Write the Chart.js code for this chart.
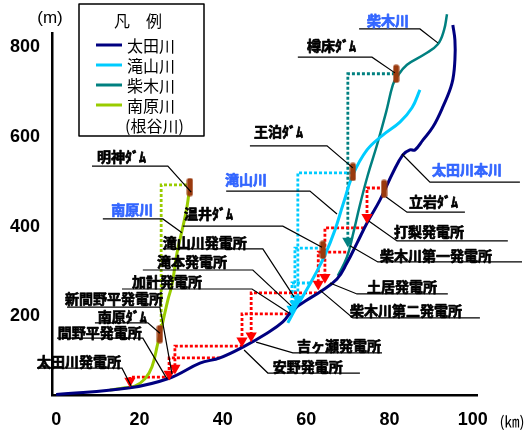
<!DOCTYPE html>
<html>
<head>
<meta charset="utf-8">
<script src="https://cdn.jsdelivr.net/npm/chart.js@4.4.1/dist/chart.umd.min.js"></script>
<style>
body { margin: 0; background: #fff; }
</style>
</head>
<body>
<canvas id="c" width="529" height="434"></canvas>
<script>
// distance from river mouth (km) / elevation (m)
var otaKm = [0, 17.7, 27.3, 34.5, 39.3, 44.8, 50.6, 54.4, 56.8, 60.2, 63.3, 67.4, 69.8, 72.2, 74.6, 77.7, 80.8, 83.2, 84.9, 86.1, 88.0, 90.4, 92.8, 95.0, 95.7, 95.7, 95.2];
var otaM  = [25, 40, 62, 95, 107, 131, 162, 187, 214, 236, 254, 283, 319, 363, 408, 459, 520, 560, 571, 571, 593, 622, 667, 720, 772, 816, 850];

var takiKm = [55.6, 57.3, 59.7, 62.1, 64.5, 66.9, 68.8, 71.2, 74.6, 78.4, 82.5, 85.4, 87.3];
var takiM  = [185, 214, 252, 292, 336, 392, 448, 515, 571, 604, 633, 665, 705];

var shikiKm = [67.6, 69.8, 71.2, 72.9, 74.8, 77.0, 79.2, 80.8, 81.8, 84.2, 88.5, 91.6, 93.1, 93.8];
var shikiM  = [290, 332, 381, 448, 515, 582, 656, 716, 734, 761, 785, 807, 839, 874];

var minaKm = [12.9, 16.5, 18.9, 21.3, 23.0, 24.4, 25.6, 26.8, 27.8, 29.0, 30.4, 31.4, 32.1];
var minaM  = [35, 40, 44, 60, 87, 140, 187, 236, 270, 341, 399, 444, 493];

var riverNames = ['太田川', '滝山川', '柴木川', '南原川'];
var riverSub = '(根谷川)';

// dams: 明神, 南原, 温井, 王泊, 樽床, 立岩
var damKm = [32.1, 24.9, 64.0, 71.2, 81.6, 78.7];
var damM  = [488, 160, 348, 522, 741, 484];

// water routes (intake -> power station), [km, m]
var rOta       = [[27.3, 64], [17.7, 64], [17.7, 55]];
var rManohira  = [[39.3, 107], [27.1, 107], [27.1, 71]];
var rShinMano  = [[44.8, 133], [28.5, 133], [28.5, 84]];
var rYasuno    = [[55.6, 205], [44.6, 205], [44.6, 145]];
var rYoshigase = [[62.6, 252], [46.8, 252], [46.8, 156]];
var rDoi       = [[73.9, 397], [64.5, 397], [64.5, 287]];
var rShiki2    = [[69.6, 343], [62.9, 343], [62.9, 272]];
var rUchinashi = [[77.7, 486], [74.6, 486], [74.6, 421]];
var rTakiyama  = [[71.0, 520], [58.0, 520], [58.0, 238]];
var rTakimoto  = [[62.8, 352], [57.3, 352], [57.3, 227]];
var rKake      = [[60.9, 274], [56.6, 274], [56.6, 216]];
var rShiki1    = [[81.3, 741], [70.0, 741], [70.0, 368]];
var rMinami    = [[31.4, 493], [25.2, 493], [25.2, 180]];

// power station outlets
var redArrowKm = [17.7, 27.1, 28.5, 44.6, 46.8, 64.5, 62.9, 74.6];
var redArrowM  = [55, 71, 84, 145, 156, 287, 272, 421];
var blueArrowKm = [58.0, 57.3, 56.6];
var blueArrowM  = [238, 227, 216];
var tealArrowKm = [70.0];
var tealArrowM  = [368];

var xTicks = [0, 20, 40, 60, 80, 100];
var yTicks = [200, 400, 600, 800];

var callouts = [
  {t: '明神ﾀﾞﾑ', at: [9.8, 555], line: [[8.6, 535], [26.8, 535], [32.4, 477]]},
  {t: '南原川', river: true, at: [13.2, 437], line: [[11.2, 417], [25.6, 417], [30.2, 386]]},
  {t: '温井ﾀﾞﾑ', at: [30.7, 428], line: [[30.4, 401], [54.4, 401], [63.8, 354]]},
  {t: '滝山川', river: true, at: [40.5, 504], line: [[40.8, 479], [60.9, 479], [67.4, 428]]},
  {t: '王泊ﾀﾞﾑ', at: [47.5, 611], line: [[46.5, 580], [65.0, 580], [71.2, 531]]},
  {t: '樽床ﾀﾞﾑ', at: [60.2, 803], line: [[58.0, 778], [75.8, 778], [81.3, 743]]},
  {t: '柴木川', river: true, at: [74.6, 859], line: [[72.7, 841], [87.3, 841], [91.6, 810]]},
  {t: '太田川本川', river: true, at: [90.2, 526], line: [[111.3, 499], [89.7, 499], [83.0, 562]]},
  {t: '立岩ﾀﾞﾑ', at: [84.7, 455], line: [[98.1, 432], [84.2, 432], [79.2, 466]]},
  {t: '打梨発電所', at: [81.1, 388], line: [[108.4, 368], [81.8, 368], [75.1, 412]]},
  {t: '柴木川第一発電所', at: [77.7, 336], line: [[111.8, 321], [77.2, 321], [70.5, 357]]},
  {t: '土居発電所', at: [74.6, 265], line: [[94.0, 249.5], [72.2, 249.5], [65.7, 274]]},
  {t: '柴木川第二発電所', at: [70.5, 211.5], line: [[101.7, 196], [71.2, 196], [63.3, 258]]},
  {t: '吉ヶ瀬発電所', at: [57.8, 133], line: [[78.2, 118], [56.8, 118], [48.0, 142]]},
  {t: '安野発電所', at: [52.0, 86.5], line: [[72.9, 73], [50.8, 73], [45.1, 124.5]]},
  {t: '滝山川発電所', at: [25.6, 363], line: [[25.6, 350], [49.6, 350], [57.1, 243]]},
  {t: '滝本発電所', at: [24.2, 321], line: [[20.8, 303], [47.2, 303], [56.4, 223]]},
  {t: '加計発電所', at: [18.2, 276], line: [[15.8, 260.6], [47.0, 260.6], [55.9, 207]]},
  {t: '新間野平発電所', at: [2.1, 238], line: [[2.6, 220], [24.9, 220], [27.8, 71]]},
  {t: '南原ﾀﾞﾑ', at: [10.0, 198], line: [[9.3, 185], [22.0, 185], [24.9, 162]]},
  {t: '間野平発電所', at: [0.4, 162], line: [[0.2, 151], [20.8, 151], [26.6, 60]]},
  {t: '太田川発電所', at: [-4.6, 98], line: [[-4.6, 84], [15.8, 84], [18.0, 44]]}
];

var OTA = '#000080', TAKI = '#00ccff', SHIKI = '#008080', MINA = '#99cc00', RED = '#ff0000';

function pts(km, m) {
  return km.map((k, i) => ({x: k, y: m[i]}));
}
function pairs(a) {
  return a.map(p => ({x: p[0], y: p[1]}));
}

// brown dam marker
var dam = document.createElement('canvas');
dam.width = 7; dam.height = 19;
(function () {
  var g = dam.getContext('2d');
  g.fillStyle = '#9a3a0e';
  g.beginPath();
  g.roundRect(0.5, 0.5, 6, 18, 2);
  g.fill();
})();

function route(p, color) {
  return {data: pairs(p), borderColor: color, borderWidth: 2.8, borderDash: [3, 2],
          pointRadius: 0, tension: 0, clip: false};
}
function arrows(km, m, color) {
  return {data: pts(km, m), showLine: false, pointStyle: 'triangle', pointRotation: 180,
          pointRadius: 6.5, pointBackgroundColor: color, pointBorderColor: color, pointBorderWidth: 0, clip: false};
}
function river(name, km, m, color, w) {
  return {label: name, river: true, data: pts(km, m), borderColor: color, borderWidth: w,
          pointRadius: 0, tension: 0.4, clip: false};
}

var datasets = [
  {data: pts(damKm, damM), showLine: false, pointStyle: dam, pointRadius: 5, clip: false},
  arrows(redArrowKm, redArrowM, RED),
  arrows(blueArrowKm, blueArrowM, TAKI),
  arrows(tealArrowKm, tealArrowM, SHIKI),
  river(riverNames[0], otaKm, otaM, OTA, 3),
  river(riverNames[1], takiKm, takiM, TAKI, 3),
  river(riverNames[2], shikiKm, shikiM, SHIKI, 2.5),
  river(riverNames[3], minaKm, minaM, MINA, 3),
  route(rOta, RED), route(rManohira, RED), route(rShinMano, RED), route(rYasuno, RED),
  route(rYoshigase, RED), route(rDoi, RED), route(rShiki2, RED), route(rUchinashi, RED),
  route(rTakiyama, TAKI), route(rTakimoto, TAKI), route(rKake, TAKI),
  route(rShiki1, SHIKI), route(rMinami, MINA)
];

var notes = {
  id: 'notes',
  afterDatasetsDraw(chart) {
    var ctx = chart.ctx, xs = chart.scales.x, ys = chart.scales.y, a = chart.chartArea;
    var px = p => [xs.getPixelForValue(p[0]), ys.getPixelForValue(p[1])];
    ctx.save();

    // callout underlines and leaders
    ctx.strokeStyle = '#000';
    ctx.lineWidth = 1.2;
    callouts.forEach(c => {
      ctx.beginPath();
      c.line.forEach((p, i) => {
        var q = px(p);
        if (i) ctx.lineTo(q[0], q[1]); else ctx.moveTo(q[0], q[1]);
      });
      ctx.stroke();
    });
    ctx.font = 'bold 14px "Noto Sans CJK JP"';
    ctx.textBaseline = 'middle';
    ctx.textAlign = 'left';
    ctx.lineWidth = 0.7;
    ctx.lineJoin = 'round';
    callouts.forEach(c => {
      var q = px(c.at);
      ctx.fillStyle = ctx.strokeStyle = c.river ? '#3366ff' : '#000';
      ctx.fillText(c.t, q[0], q[1]);
      ctx.strokeText(c.t, q[0], q[1]);
    });

    // unit labels
    ctx.fillStyle = '#000';
    ctx.textAlign = 'center';
    ctx.font = '17px "Liberation Sans", Arial';
    ctx.fillText('(m)', a.left - 2, a.top - 15);
    ctx.font = '15px "Noto Sans CJK JP"';
    ctx.fillText('(㎞)', a.right + 35, a.bottom + 26);

    // legend box
    var bx = a.left + 27, by = 4, bw = 125, bh = 132;
    ctx.fillStyle = '#fff';
    ctx.fillRect(bx, by, bw, bh);
    ctx.strokeStyle = '#000';
    ctx.lineWidth = 1.5;
    ctx.strokeRect(bx, by, bw, bh);
    ctx.fillStyle = '#000';
    ctx.font = '16px "Noto Sans CJK JP"';
    ctx.fillText('凡　例', bx + 59, by + 17);
    ctx.textAlign = 'left';
    var rivers = chart.data.datasets.filter(d => d.river);
    rivers.forEach((d, i) => {
      var y = by + 41 + i * 20;
      ctx.strokeStyle = d.borderColor;
      ctx.lineWidth = 3;
      ctx.beginPath();
      ctx.moveTo(bx + 17, y);
      ctx.lineTo(bx + 43, y);
      ctx.stroke();
      ctx.fillText(d.label, bx + 48, y + 1);
    });
    ctx.fillText(riverSub, bx + 46, by + 41 + rivers.length * 20 + 1);
    ctx.restore();
  }
};

var tickFont = {family: '"Liberation Sans", Arial', size: 18, weight: 'bold'};

new Chart(document.getElementById('c'), {
  type: 'line',
  data: {datasets: datasets},
  options: {
    responsive: false,
    animation: false,
    layout: {padding: {top: 33, right: 52, left: 0, bottom: 0}},
    plugins: {legend: {display: false}, tooltip: {enabled: false}},
    scales: {
      x: {
        type: 'linear', min: -1, max: 101,
        grid: {display: false, drawTicks: false},
        border: {display: true, color: '#000', width: 2.5},
        ticks: {color: '#000', font: tickFont, padding: 14},
        afterBuildTicks: s => { s.ticks = xTicks.map(v => ({value: v})); },
        afterFit: s => { s.height = 39; }
      },
      y: {
        type: 'linear', min: 24, max: 832,
        grid: {display: false, drawTicks: false},
        border: {display: true, color: '#000', width: 2.5},
        ticks: {color: '#000', font: tickFont, padding: 12},
        afterBuildTicks: s => { s.ticks = yTicks.map(v => ({value: v})); },
        afterFit: s => { s.width = 52; }
      }
    }
  },
  plugins: [notes]
});
</script>
</body>
</html>
